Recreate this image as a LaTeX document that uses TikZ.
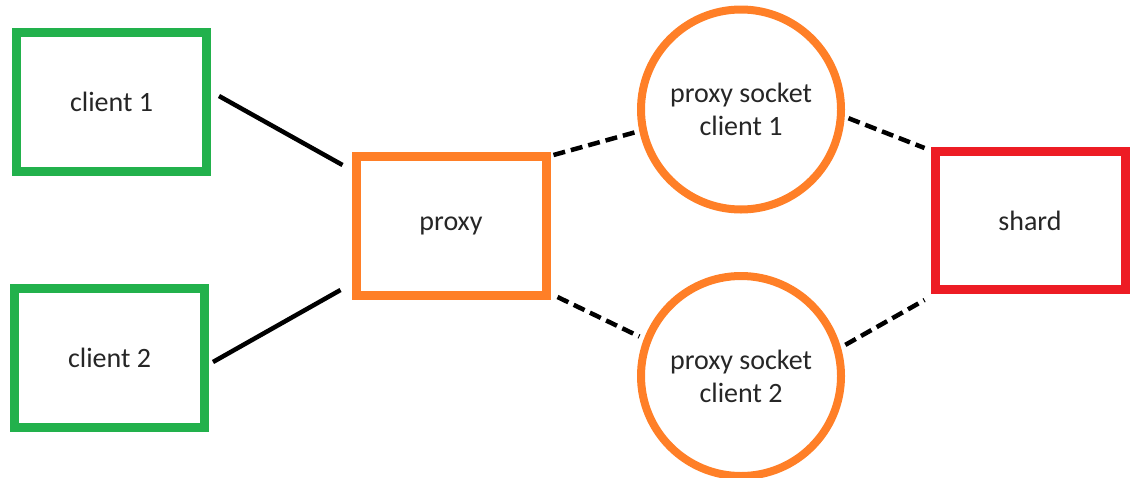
\documentclass[tikz,border=0pt]{standalone}
\usepackage{fontspec}
\setmainfont{Carlito}
\usepackage{tikz}
\usetikzlibrary{arrows.meta,positioning,calc}
\definecolor{paintgreen}{RGB}{34,177,76}
\definecolor{paintorange}{RGB}{255,127,39}
\definecolor{paintred}{RGB}{237,28,36}
\begin{document}
\begin{tikzpicture}[
      x=1pt, y=-1pt,
      every node/.style={font=\fontsize{28}{33}\selectfont, text=black!85, align=center},
      caixa/.style={draw, line width=9pt, minimum width=190pt, minimum height=139pt},
      cliente/.style={caixa, draw=paintgreen},
      prox/.style={caixa, draw=paintorange},
      shardbox/.style={caixa, draw=paintred, minimum height=138pt},
      sock/.style={draw=paintorange, circle, line width=8pt, minimum size=200pt, inner sep=0pt},
      liga/.style={line width=4.5pt, black},
      tracejado/.style={liga, dash pattern=on 12pt off 6pt}
  ]
      \useasboundingbox (0,0) rectangle (1131,477);

      % Clientes e proxy
      \node[cliente] (c1) at (111.5,102)   {client 1};
      \node[cliente] (c2) at (109.5,357.5) {client 2};
      \node[prox]    (p)  at (451,226)     {proxy};

      % Sockets do proxy e shard
      \node[sock] (s1) at (741,109.5) {proxy socket\\client 1};
      \node[sock] (s2) at (741,376)   {proxy socket\\client 2};
      \node[shardbox] (sh) at (1030,220.5) {shard};

      % Ligações cliente -> proxy
      \draw[liga] ([shift={(8,-6)}]c1.east) -- ([shift={(-9,13)}]p.north west);
      \draw[liga] ([shift={(4,4.5)}]c2.east) -- ([shift={(-11,-10)}]p.south west);

      % Ligações tracejadas proxy -> sockets -> shard
      \draw[tracejado, shorten >=4pt] ([shift={(3,3)}]p.north east) -- (s1.192);
      \draw[tracejado, shorten >=5pt] ([shift={(7,-3)}]p.south east) -- (s2.159);
      \draw[tracejado, shorten <=4pt] (s1.356) -- ([shift={(-6,1)}]sh.north west);
      \draw[tracejado, shorten <=5pt] (s2.16) -- ([shift={(-6,6)}]sh.south west);
  \end{tikzpicture}
\end{document}
